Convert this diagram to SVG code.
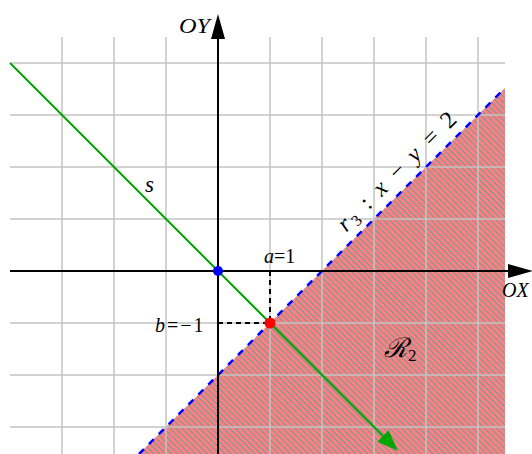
<svg xmlns="http://www.w3.org/2000/svg" width="532" height="454" viewBox="0 0 532 454">
<style>
.grid{stroke:#c4c4c4;stroke-width:1.5;fill:none}
.axis{stroke:#000;stroke-width:2;fill:none}
.math{font-family:"Liberation Serif","DejaVu Serif",serif;font-style:italic;fill:#000}
.num{font-family:"Liberation Serif","DejaVu Serif",serif;font-style:normal;fill:#000}
.guide{stroke:#000;stroke-width:2;stroke-dasharray:5 4;fill:none}
</style>
<defs>
<pattern id="hatch" width="4.2" height="4.2" patternUnits="userSpaceOnUse" patternTransform="rotate(45)">
<rect width="4.2" height="4.2" fill="#f68383"/>
<line x1="0" y1="2.1" x2="4.2" y2="2.1" stroke="#6a9697" stroke-width="0.8"/>
</pattern>
<marker id="axhead" markerWidth="25" markerHeight="14" refX="0" refY="7" orient="auto" markerUnits="userSpaceOnUse">
<path d="M0,0 L25,7 L0,14 Z" fill="#000"/>
</marker>
<marker id="greenhead" markerWidth="21" markerHeight="16" refX="0" refY="8" orient="auto" markerUnits="userSpaceOnUse">
<path d="M0,0 L21,8 L0,16 Z" fill="#00a600"/>
</marker>
</defs>
<rect width="532" height="454" fill="#fff"/>
<g id="region-R2">
<polygon points="505,88 505,454 139,454" fill="url(#hatch)"/>
</g>
<g id="grid">
<path class="grid" d="M62,37V454M114,37V454M166,37V454M218,37V454M270,37V454M322,37V454M374,37V454M426,37V454M478,37V454M10,63H505M10,115H505M10,167H505M10,219H505M10,271H505M10,323H505M10,375H505M10,427H505"/>
</g>
<g id="connectors">
<line id="r3-line" x1="139" y1="454" x2="505" y2="88" stroke="#0000ff" stroke-width="2.5" stroke-dasharray="7 7"/>
<line id="x-axis" class="axis" x1="10" y1="271" x2="508" y2="271" marker-end="url(#axhead)"/>
<line id="y-axis" class="axis" x1="218" y1="454" x2="218" y2="39" marker-end="url(#axhead)"/>
<line id="s-line" x1="10" y1="63" x2="383" y2="436" stroke="#00a600" stroke-width="2" marker-end="url(#greenhead)"/>
<path class="guide" d="M270,271V323M218,323H270"/>
</g>
<g id="label-OY"><text class="math" x="179" y="33" font-size="20" textLength="31" lengthAdjust="spacingAndGlyphs">OY</text></g>
<g id="label-OX"><text class="math" x="502" y="297" font-size="20">OX</text></g>
<g id="label-s"><text class="math" x="145" y="192" font-size="23">s</text></g>
<g id="label-a"><text x="264" y="263" font-size="20"><tspan class="math">a</tspan><tspan class="num">=1</tspan></text></g>
<g id="label-b"><text x="155" y="332" font-size="20" letter-spacing="2"><tspan class="math">b</tspan><tspan class="num">=−1</tspan></text></g>
<g id="label-r3"><text transform="translate(402,177) rotate(-45)" text-anchor="middle" font-size="24" textLength="158"><tspan class="math">r</tspan><tspan class="num" font-size="16" dy="4">3</tspan><tspan class="num" dy="-4"> : </tspan><tspan class="math">x</tspan><tspan class="num"> − </tspan><tspan class="math">y</tspan><tspan class="num"> = 2</tspan></text></g>
<g id="label-R2"><text x="384" y="357" font-size="27"><tspan class="math" font-family="'DejaVu Serif',serif">ℛ</tspan><tspan class="num" font-size="17" dy="4">2</tspan></text></g>
<g id="point-origin"><circle cx="218" cy="271" r="5" fill="#0000ff"/></g>
<g id="point-P"><circle cx="270" cy="323" r="5.5" fill="#ff0000"/></g>
</svg>
